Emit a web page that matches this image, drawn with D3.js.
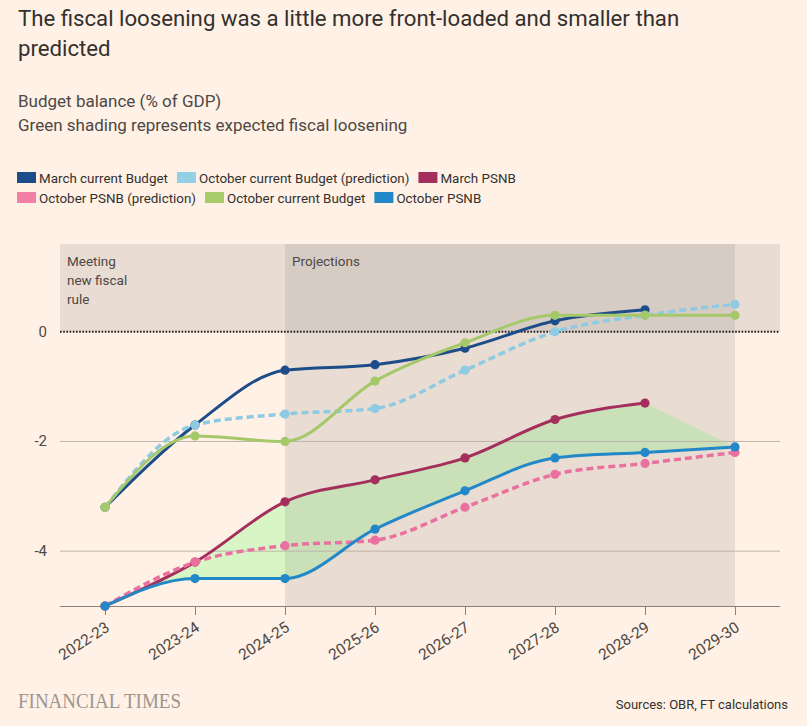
<!DOCTYPE html>
<html>
<head>
<meta charset="utf-8">
<script src="https://cdn.jsdelivr.net/npm/d3@7"></script>
<style>
  html, body { margin: 0; padding: 0; background: #fff1e5; }
  svg { display: block; font-family: Roboto, "Noto Sans", sans-serif; }
</style>
</head>
<body>
<svg id="chart" width="807" height="726"></svg>
<script>
const years = ["2022-23", "2023-24", "2024-25", "2025-26", "2026-27", "2027-28", "2028-29", "2029-30"];

const marchBudget = [-3.2, -1.7, -0.7, -0.6, -0.3, 0.2, 0.4, null];
const octBudgetPrediction = [-3.2, -1.7, -1.5, -1.4, -0.7, 0.0, 0.3, 0.5];
const marchPSNB = [-5.0, -4.2, -3.1, -2.7, -2.3, -1.6, -1.3, null];
const octPSNBPrediction = [-5.0, -4.2, -3.9, -3.8, -3.2, -2.6, -2.4, -2.2];
const octBudget = [-3.2, -1.9, -2.0, -0.9, -0.2, 0.3, 0.3, 0.3];
const octPSNB = [-5.0, -4.5, -4.5, -3.6, -2.9, -2.3, -2.2, -2.1];

const yTicks = [0, -2, -4];

const series = [
  { name: "March current Budget", values: marchBudget, color: "#1d4d89", swatch: "#1d4d89", dashed: false },
  { name: "October current Budget (prediction)", values: octBudgetPrediction, color: "#8ecbe3", swatch: "#93d0e6", dashed: true },
  { name: "March PSNB", values: marchPSNB, color: "#a52f5c", swatch: "#a52f5c", dashed: false },
  { name: "October PSNB (prediction)", values: octPSNBPrediction, color: "#ea719f", swatch: "#f27fa6", dashed: true },
  { name: "October current Budget", values: octBudget, color: "#a4c86a", swatch: "#a8cc6c", dashed: false },
  { name: "October PSNB", values: octPSNB, color: "#2388c8", swatch: "#2388c8", dashed: false },
];

const svg = d3.select("#chart");
const plot = { left: 60, right: 780, top: 244, bottom: 606 };

const x = d3.scalePoint().domain(years).range([plot.left, plot.right]).padding(0.5);
const y = d3.scaleLinear().domain([-5, 1.6]).range([plot.bottom, plot.top]);

// titles
const title = svg.append("g").attr("fill", "#33302e").attr("font-size", 22.2);
title.append("text").attr("x", 18).attr("y", 26).text("The fiscal loosening was a little more front-loaded and smaller than");
title.append("text").attr("x", 18).attr("y", 56).text("predicted");

const sub = svg.append("g").attr("fill", "#4d4845").attr("font-size", 17);
sub.append("text").attr("x", 18).attr("y", 107).text("Budget balance (% of GDP)");
sub.append("text").attr("x", 18).attr("y", 131).text("Green shading represents expected fiscal loosening");

// legend
const legend = svg.append("g").attr("font-size", 13.4).attr("fill", "#33302e");
let lx = 17, ly = 172;
series.forEach((s, i) => {
  const item = legend.append("g");
  item.append("rect").attr("width", 19).attr("height", 11).attr("fill", s.swatch);
  const t = item.append("text").attr("x", 22).attr("y", 10.5).text(s.name);
  const w = 22 + t.node().getComputedTextLength();
  if (i === 3) { lx = 17; ly += 20; }
  item.attr("transform", `translate(${lx},${ly})`);
  lx += w + 9;
});

// loosening shading (drawn under the grey panels):
// top follows March PSNB, then a straight edge to the last October PSNB point
const curve = d3.curveMonotoneX;
const pathLine = d3.line().curve(curve);
const topPts = years
  .map((year, i) => [x(year), marchPSNB[i]])
  .filter((p) => p[1] != null)
  .map((p) => [p[0], y(p[1])]);
const lastYear = years[years.length - 1];
const bottomPts = years.map((year, i) => [x(year), y(octPSNB[i])]).reverse();
const shadePath = pathLine(topPts)
  + `L${x(lastYear)},${y(octPSNB[octPSNB.length - 1])}`
  + pathLine(bottomPts).replace(/^M/, "L")
  + "Z";

svg.append("path")
  .attr("fill", "#d8f5c6")
  .attr("d", shadePath);

// background panels
const panelFill = "#938b88";
svg.append("rect")
  .attr("x", plot.left).attr("width", plot.right - plot.left)
  .attr("y", y(1.6)).attr("height", y(0) - y(1.6))
  .attr("fill", panelFill).attr("fill-opacity", 0.2);

svg.append("rect")
  .attr("x", x("2024-25")).attr("width", x("2029-30") - x("2024-25"))
  .attr("y", y(1.6)).attr("height", y(-5) - y(1.6))
  .attr("fill", panelFill).attr("fill-opacity", 0.2);

const notes = svg.append("g").attr("font-size", 13.5).attr("fill", "#4d4845");
["Meeting", "new fiscal", "rule"].forEach((line, i) => {
  notes.append("text").attr("x", 67).attr("y", 266 + i * 19).text(line);
});
notes.append("text").attr("x", x("2024-25") + 7).attr("y", 266).text("Projections");

// grid
svg.append("g")
  .selectAll("line")
  .data(yTicks.filter((d) => d !== 0))
  .join("line")
  .attr("x1", plot.left).attr("x2", plot.right)
  .attr("y1", (d) => y(d)).attr("y2", (d) => y(d))
  .attr("stroke", "#bfb3aa").attr("stroke-width", 1);

svg.append("line")
  .attr("x1", plot.left).attr("x2", plot.right)
  .attr("y1", y(0)).attr("y2", y(0))
  .attr("stroke", "#1a1a1a").attr("stroke-width", 2).attr("stroke-dasharray", "1.6,1.6");

svg.append("g")
  .attr("font-size", 15).attr("fill", "#4d4845").attr("text-anchor", "end")
  .selectAll("text")
  .data(yTicks)
  .join("text")
  .attr("x", 47)
  .attr("y", (d) => y(d) + 5)
  .text((d) => d);

// x axis
const xAxis = svg.append("g")
  .attr("transform", `translate(0,${plot.bottom})`)
  .call(d3.axisBottom(x).tickSize(9).tickSizeOuter(0));
xAxis.select(".domain").attr("d", `M${plot.left},0.5H${plot.right}`).attr("stroke", "#8c817a");
xAxis.selectAll(".tick line").attr("stroke", "#8c817a");
xAxis.selectAll(".tick text")
  .attr("font-family", "Roboto, sans-serif")
  .attr("font-size", 15.5)
  .attr("fill", "#4d4845")
  .attr("text-anchor", "end")
  .attr("dy", 0)
  .attr("y", 0)
  .attr("transform", "translate(5,24) rotate(-33)");

// lines
const line = d3.line()
  .defined((d) => d.value != null)
  .x((d) => x(d.year))
  .y((d) => y(d.value))
  .curve(curve);

series.forEach((s) => {
  const points = years.map((year, i) => ({ year, value: s.values[i] }));
  const g = svg.append("g");
  g.append("path")
    .datum(points)
    .attr("fill", "none")
    .attr("stroke", s.color)
    .attr("stroke-width", s.dashed ? 3.5 : 3)
    .attr("stroke-dasharray", s.dashed ? "7,4" : null)
    .attr("d", line);
  g.selectAll("circle")
    .data(points.filter((d) => d.value != null))
    .join("circle")
    .attr("cx", (d) => x(d.year))
    .attr("cy", (d) => y(d.value))
    .attr("r", 4.6)
    .attr("fill", s.color);
});

// footer
svg.append("text")
  .attr("x", 18).attr("y", 708)
  .attr("font-family", "'Liberation Serif', 'DejaVu Serif', serif")
  .attr("font-size", 21)
  .attr("fill", "#9e958e")
  .attr("textLength", 163)
  .attr("lengthAdjust", "spacingAndGlyphs")
  .text("FINANCIAL TIMES");

svg.append("text")
  .attr("x", 788).attr("y", 709)
  .attr("text-anchor", "end")
  .attr("font-size", 13)
  .attr("fill", "#33302e")
  .text("Sources: OBR, FT calculations");
</script>
</body>
</html>
